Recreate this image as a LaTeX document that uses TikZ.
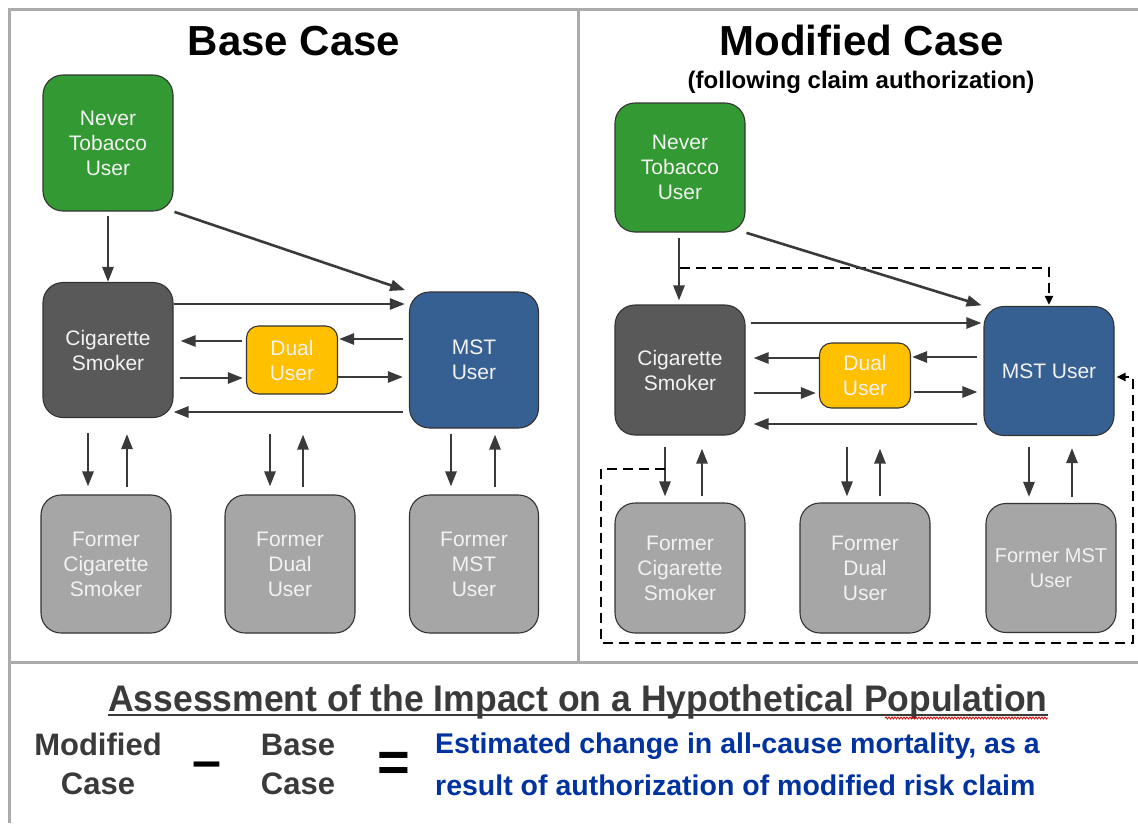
\documentclass[tikz,border=0pt]{standalone}
\usepackage{graphicx}
\usepackage{fontspec}
\setmainfont{Liberation Sans}
\usetikzlibrary{arrows.meta,decorations.pathmorphing}
\definecolor{nevergreen}{HTML}{339933}
\definecolor{smokegray}{HTML}{595959}
\definecolor{dualyellow}{HTML}{FFC000}
\definecolor{mstblue}{HTML}{376092}
\definecolor{formergray}{HTML}{A6A6A6}
\definecolor{framegray}{HTML}{ABABAB}
\definecolor{resultblue}{HTML}{0033A0}
\definecolor{inkgray}{HTML}{3A3A3A}

\begin{document}
\begin{tikzpicture}[x=1pt,y=-1pt,
	box/.style={draw=black!80,line width=1.1pt,rounded corners=20pt,align=center,inner sep=0pt,
		text=white!95!black,font=\fontsize{21}{25}\selectfont,minimum width=130pt,minimum height=134pt},
	neverbox/.style={box,fill=nevergreen},
	smokerbox/.style={box,fill=smokegray},
	dualbox/.style={box,fill=dualyellow,rounded corners=12pt,minimum width=91pt,minimum height=68pt},
	mstbox/.style={box,fill=mstblue},
	formerbox/.style={box,fill=formergray},
	flow/.style={draw=inkgray,line width=2.6pt,-{Triangle[length=15pt,width=11pt]},shorten <=4pt,shorten >=4pt},
	claim/.style={draw=black,line width=2.8pt,dash pattern=on 10pt off 6pt},
	title/.style={font=\bfseries\fontsize{42}{42}\selectfont,anchor=base},
	eqn/.style={font=\bfseries\fontsize{31}{39}\selectfont,text=inkgray,align=center,inner sep=0pt}]
\useasboundingbox (0,0) rectangle (1138,823);
\draw[framegray,line width=3pt] (1138,9) -- (9,9) -- (9,823) (578,9) -- (578,662) (9,662) -- (1138,662);

\node[title] (baseTitle) at (294,55) {Base Case};
\node[title] (modTitle) at (862,55) {Modified Case};
\node[font=\bfseries\fontsize{24}{24}\selectfont,anchor=base] (modSub) at (861,88) {(following claim authorization)};

\node[neverbox,minimum height=136pt] (neverA) at (108,143) {Never\\Tobacco\\User};
\node[smokerbox,minimum height=135pt] (smokerA) at (108,350) {Cigarette\\Smoker};
\node[dualbox] (dualA) at (292,360) {Dual\\User};
\node[mstbox,minimum width=129pt,minimum height=136pt] (mstA) at (474,360) {MST\\User};
\node[formerbox,minimum height=138pt] (fsmokerA) at (106,564) {Former\\Cigarette\\Smoker};
\node[formerbox,minimum height=138pt] (fdualA) at (290,564) {Former\\Dual\\User};
\node[formerbox,minimum width=129pt,minimum height=138pt] (fmstA) at (474,564) {Former\\MST\\User};

\draw[flow,shorten >=0pt] (neverA) -- (smokerA);
\draw[flow,shorten <=1pt] (neverA.south east) -- (mstA.north west);
\draw[flow,shorten <=0pt] (smokerA.east |- 0,304) -- (mstA.west |- 0,304);
\draw[flow,shorten <=6pt,shorten >=1pt] (mstA.west |- 0,339) -- (dualA.east |- 0,339);
\draw[flow,shorten >=7pt] (dualA.west |- 0,341) -- (smokerA.east |- 0,341);
\draw[flow,shorten <=6pt,shorten >=3pt] (smokerA.east |- 0,378) -- (dualA.west |- 0,378);
\draw[flow,shorten <=0pt,shorten >=6pt] (dualA.east |- 0,377) -- (mstA.west |- 0,377);
\draw[flow,shorten <=6pt,shorten >=0pt] (mstA.west |- 0,412) -- (smokerA.east |- 0,412);
\draw[flow,shorten <=15pt,shorten >=8pt] (88,0 |- smokerA.south) -- (88,0 |- fsmokerA.north);
\draw[flow,shorten <=7pt,shorten >=16pt] (127,0 |- fsmokerA.north) -- (127,0 |- smokerA.south);
\draw[flow,shorten <=39pt,shorten >=8pt] (270,0 |- dualA.south) -- (270,0 |- fdualA.north);
\draw[flow,shorten <=7pt,shorten >=40pt] (303,0 |- fdualA.north) -- (303,0 |- dualA.south);
\draw[flow,shorten <=5pt,shorten >=8pt] (451,0 |- mstA.south) -- (451,0 |- fmstA.north);
\draw[flow,shorten <=7pt,shorten >=6pt] (495,0 |- fmstA.north) -- (495,0 |- mstA.south);

\node[neverbox,minimum height=129pt] (neverB) at (680,167.5) {Never\\Tobacco\\User};
\node[smokerbox,minimum height=130pt] (smokerB) at (680,370) {Cigarette\\Smoker};
\node[dualbox,minimum height=65pt] (dualB) at (865,375.5) {Dual\\User};
\node[mstbox,minimum height=129pt] (mstB) at (1049,371) {MST User};
\node[formerbox,minimum height=130pt] (fsmokerB) at (680,568) {Former\\Cigarette\\Smoker};
\node[formerbox,minimum height=130pt] (fdualB) at (865,568) {Former\\Dual\\User};
\node[formerbox,minimum height=129pt,font=\fontsize{20}{25}\selectfont] (fmstB) at (1051,568) {Former MST\\User};

\draw[flow,shorten <=5pt] (neverB.south -| 679,0) -- (smokerB.north -| 679,0);
\draw[claim,-{Triangle[length=9pt,width=8pt]},shorten >=1pt] (neverB.south |- 0,268) -| (mstB.north);
\draw[flow,shorten <=1pt,shorten >=2pt] (neverB.south east) -- (mstB.north west);
\draw[flow,shorten <=5pt,shorten >=2pt] (smokerB.east |- 0,323) -- (mstB.west |- 0,323);
\draw[flow,shorten <=6pt,shorten >=1pt] (mstB.west |- 0,357) -- (dualB.east |- 0,357);
\draw[flow,shorten <=0pt,shorten >=8pt] (dualB.west |- 0,358) -- (smokerB.east |- 0,358);
\draw[flow,shorten <=8pt,shorten >=3pt] (smokerB.east |- 0,393) -- (dualB.west |- 0,393);
\draw[flow,shorten <=3pt,shorten >=6pt] (dualB.east |- 0,392) -- (mstB.west |- 0,392);
\draw[flow,shorten <=6pt,shorten >=8pt] (mstB.west |- 0,424) -- (smokerB.east |- 0,424);
\draw[flow,shorten <=11pt,shorten >=6pt] (665,0 |- smokerB.south) -- (665,0 |- fsmokerB.north);
\draw[flow,shorten <=6pt,shorten >=13pt] (702,0 |- fsmokerB.north) -- (702,0 |- smokerB.south);
\draw[flow,shorten <=38pt,shorten >=6pt] (847,0 |- dualB.south) -- (847,0 |- fdualB.north);
\draw[flow,shorten <=6pt,shorten >=40pt] (880,0 |- fdualB.north) -- (880,0 |- dualB.south);
\draw[flow,shorten <=11pt,shorten >=6pt] (1029,0 |- mstB.south) -- (1029,0 |- fmstB.north);
\draw[flow,shorten <=6pt,shorten >=12pt] (1072,0 |- fmstB.north) -- (1072,0 |- mstB.south);
\coordinate (quitB) at (665,469);
\draw[claim,-{Triangle[length=9pt,width=8pt]},shorten >=2pt] (quitB) -| (601,643) -| (1133,377) -- (mstB.east |- 0,377);

\node[font=\bfseries\fontsize{37}{37}\selectfont,text=inkgray,inner sep=0pt,anchor=base] (assess) at (578,711)
	{\scalebox{0.96}[1]{Assessment of the Impact on a Hypothetical Population}};
\draw[inkgray,line width=1.6pt] ([yshift=-4pt]assess.base west) -- ([yshift=-4pt]assess.base east);
\draw[red!85!black,line width=0.8pt,decorate,decoration={snake,amplitude=1pt,segment length=3pt}]
	([yshift=-7pt]assess.base east -| 885,0) -- ([yshift=-7pt]assess.base east);
\node[eqn] (modCase) at (98,764) {Modified\\Case};
\node[eqn] (baseCase) at (298,764) {Base\\Case};
\node[font=\bfseries\fontsize{52}{52}\selectfont] (minus) at (207,770) {–};
\node[font=\bfseries\fontsize{56}{56}\selectfont] (equals) at (394,767) {=};
\node[font=\bfseries\fontsize{28.5}{42}\selectfont,text=resultblue,align=left,inner sep=0pt,anchor=north west] (result) at (435,733)
	{Estimated change in all-cause mortality, as a\\result of authorization of modified risk claim};
\end{tikzpicture}
\end{document}
